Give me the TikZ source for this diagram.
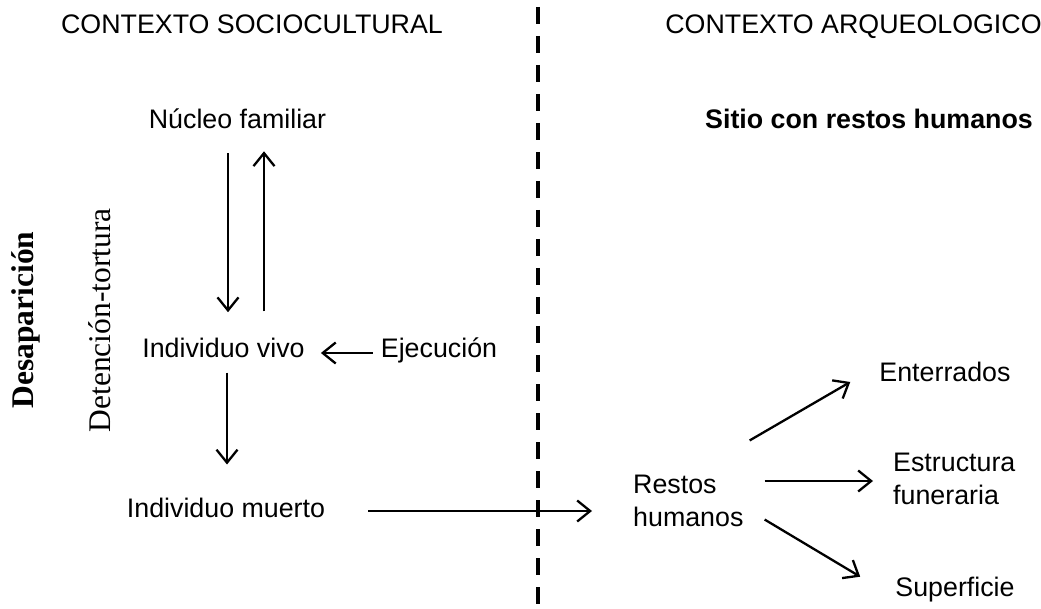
\documentclass[tikz,border=0pt]{standalone}
\usepackage{fontspec}
\setmainfont{Liberation Sans}
\newfontfamily\timesfont{Liberation Serif}
\usetikzlibrary{arrows.meta,positioning}

\begin{document}
\begin{tikzpicture}[x=1pt,y=-1pt,>={Straight Barb[length=13pt,width=21pt]},
  lbl/.style={inner sep=0pt,text height=19.2pt,text depth=0pt,font=\fontsize{26.8}{33}\selectfont},
  twol/.style={inner sep=0pt,align=left,anchor=west,font=\fontsize{26.8}{33}\selectfont},
  side/.style={inner sep=0pt,rotate=90,text height=20.9pt,text depth=0pt},
  arr/.style={->,line width=2.3pt}]
              \useasboundingbox (0,0) rectangle (1041,609);
              \node[lbl] (ctxsoc) at (252,24) {CONTEXTO SOCIOCULTURAL};
              \node[lbl] (ctxarq) at (853.5,24) {CONTEXTO ARQUEOLOGICO};
              \node[lbl,font=\fontsize{26.8}{33}\selectfont\bfseries] (sitio) at (869,118.5) {Sitio con restos humanos};

              \node[lbl] (nucleo) at (237.5,118.5) {Núcleo familiar};
              \node[lbl] (vivo) at (223.5,348) {Individuo vivo};
              \node[lbl] (ejec) at (439,348) {Ejecución};
              \node[lbl] (muerto) at (226,508) {Individuo muerto};

              \node[twol] (restos) at (633,500.5) {Restos\\humanos};
              \node[lbl] (enterr) at (945,372) {Enterrados};
              \node[twol] (estruc) at (893,479) {Estructura\\funeraria};
              \node[lbl] (superf) at (955,586.5) {Superficie};

              \node[side,font=\fontsize{31.5}{36}\timesfont\bfseries] (desap) at (23,320) {Desaparición};
              \node[side,font=\fontsize{31.5}{36}\timesfont] (deten) at (100,320.5) {Detención-tortura};

              \draw[line width=3.5pt,dash pattern=on 17pt off 12pt] (538,7) -- (538,609);

              \draw[arr,shorten <=25pt,shorten >=26pt] ([xshift=-9.5pt]nucleo.south) -- ([xshift=4.5pt]vivo.north);
              \draw[arr,shorten <=26.7pt,shorten >=23pt] ([xshift=40.5pt]vivo.north) -- ([xshift=26.5pt]nucleo.south);
              \draw[arr,shorten <=8pt,shorten >=16pt] ([yshift=-5pt]ejec.west) -- ([yshift=-5pt]vivo.east);
              \draw[arr,shorten <=14.7pt,shorten >=33.7pt] ([xshift=3.5pt]vivo.south) -- ([xshift=1pt]muerto.north);
              \draw[arr,shorten <=43pt,shorten >=41pt] ([yshift=-3pt]muerto.east) -- ([yshift=-10.5pt]restos.west);
              \draw[arr] ([xshift=6pt,yshift=34pt]restos.north east) -- ([xshift=-29pt,yshift=-10pt]enterr.west);
              \draw[arr,shorten <=21pt,shorten >=20pt] ([yshift=19.5pt]restos.east) -- ([yshift=-2pt]estruc.west);
              \draw[arr] ([xshift=21pt,yshift=7pt]restos.south east) -- ([xshift=-35pt]superf.north west);
            \end{tikzpicture}
\end{document}
